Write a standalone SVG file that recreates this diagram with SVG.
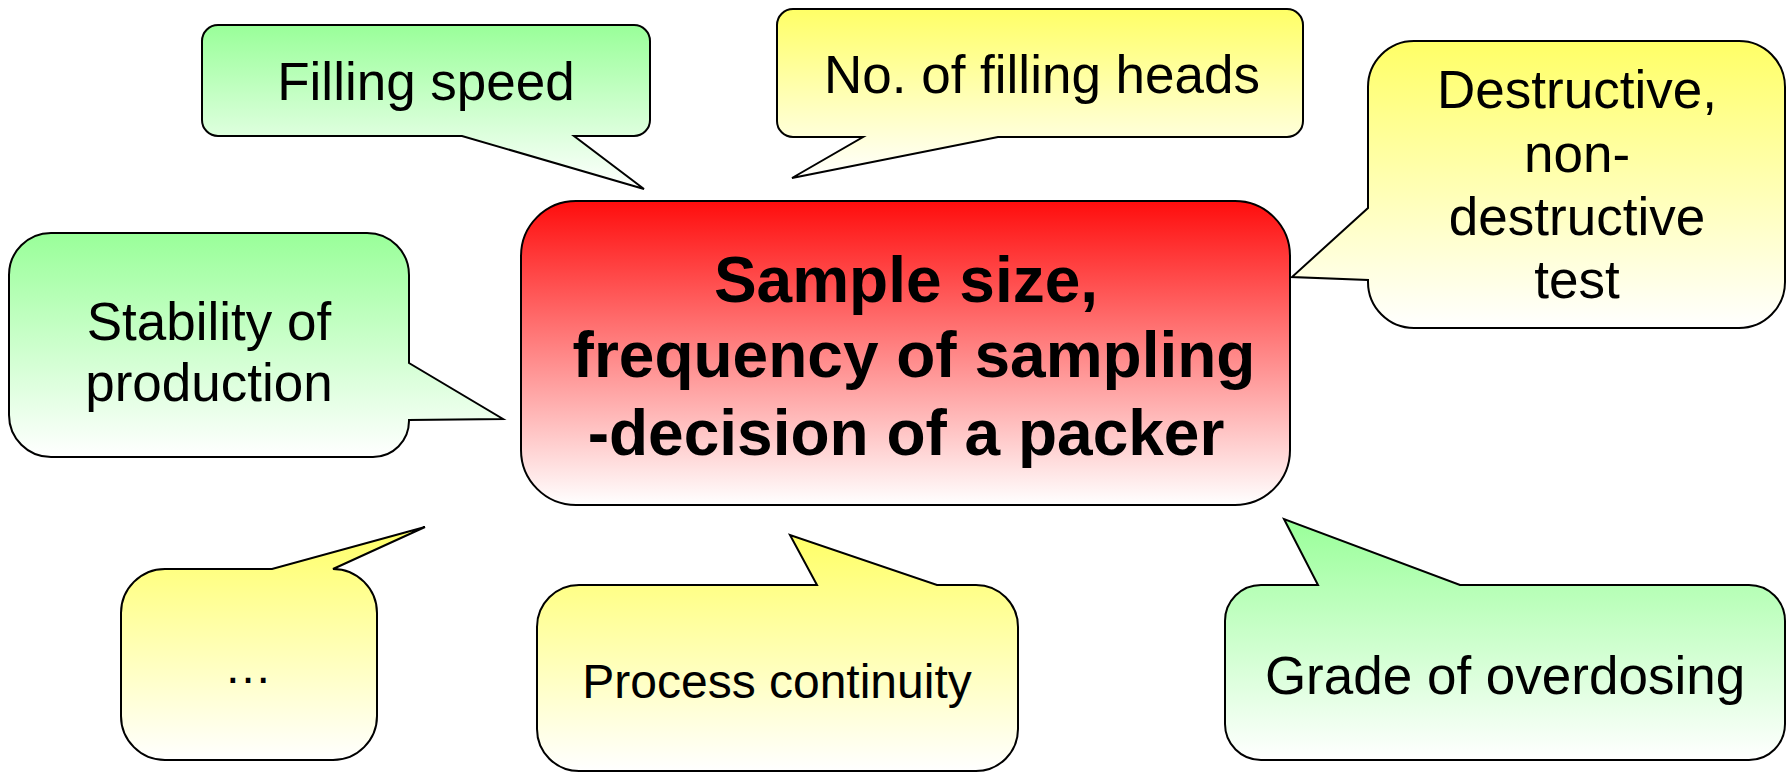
<svg xmlns="http://www.w3.org/2000/svg" width="1788" height="772" viewBox="0 0 1788 772">
<defs>
<linearGradient id="gGreen" x1="0" y1="0" x2="0" y2="1">
<stop offset="0" stop-color="#99FF99"/>
<stop offset="1" stop-color="#FFFFFF"/>
</linearGradient>
<linearGradient id="gYellow" x1="0" y1="0" x2="0" y2="1">
<stop offset="0" stop-color="#FFFF66"/>
<stop offset="1" stop-color="#FFFFFF"/>
</linearGradient>
<linearGradient id="gRed" x1="0" y1="0" x2="0" y2="1">
<stop offset="0" stop-color="#FF0D0D"/>
<stop offset="1" stop-color="#FFFFFF"/>
</linearGradient>
</defs>
<style>
.shape{stroke:#000;stroke-width:2;stroke-linejoin:miter}
.green{fill:url(#gGreen)}
.yellow{fill:url(#gYellow)}
.red{fill:url(#gRed)}
.t{font-family:"Liberation Sans",Arial,sans-serif;font-size:53px;fill:#000;text-anchor:middle}
.ts{font-size:48px}
.tb{font-family:"Liberation Sans",Arial,sans-serif;font-weight:bold;font-size:64px;fill:#000;text-anchor:middle}
</style>
<rect width="1788" height="772" fill="#FFFFFF"/>

<g id="filling-speed">
<path class="shape green" d="M 218,25 H 634 A16,16 0 0 1 650,41 V 120 A16,16 0 0 1 634,136 H 574 L 644,189 L 462,136 H 218 A16,16 0 0 1 202,120 V 41 A16,16 0 0 1 218,25 Z"/>
<text class="t" x="426" y="100">Filling speed</text>
</g>

<g id="filling-heads">
<path class="shape yellow" d="M 793,9 H 1287 A16,16 0 0 1 1303,25 V 121 A16,16 0 0 1 1287,137 H 998 L 792,178 L 863,137 H 793 A16,16 0 0 1 777,121 V 25 A16,16 0 0 1 793,9 Z"/>
<text class="t" x="1042" y="93">No. of filling heads</text>
</g>

<g id="destructive-test">
<path class="shape yellow" d="M 1414,41 H 1739 A46,46 0 0 1 1785,87 V 282 A46,46 0 0 1 1739,328 H 1414 A46,46 0 0 1 1368,282 V 280 L 1292,277 L 1368,208 V 87 A46,46 0 0 1 1414,41 Z"/>
<text class="t" x="1577" y="108">Destructive,</text>
<text class="t" x="1577" y="172">non-</text>
<text class="t" x="1577" y="235">destructive</text>
<text class="t" x="1577" y="298">test</text>
</g>

<g id="stability">
<path class="shape green" d="M 51,233 H 367 A42,42 0 0 1 409,275 V 363 L 503,419 L 409,420 V 421 A36,36 0 0 1 373,457 H 51 A42,42 0 0 1 9,415 V 275 A42,42 0 0 1 51,233 Z"/>
<text class="t" x="209" y="340">Stability of</text>
<text class="t" x="209" y="401">production</text>
</g>

<g id="ellipsis">
<path class="shape yellow" d="M 165,569 H 272 L 425,527 L 333,569 A44,44 0 0 1 377,613 V 716 A44,44 0 0 1 333,760 H 165 A44,44 0 0 1 121,716 V 613 A44,44 0 0 1 165,569 Z"/>
<text class="t ts" x="248" y="683">…</text>
</g>

<g id="process-continuity">
<path class="shape yellow" d="M 579,585 H 817 L 790,535 L 937,585 H 976 A42,42 0 0 1 1018,627 V 729 A42,42 0 0 1 976,771 H 579 A42,42 0 0 1 537,729 V 627 A42,42 0 0 1 579,585 Z"/>
<text class="t ts" x="777" y="698">Process continuity</text>
</g>

<g id="overdosing">
<path class="shape green" d="M 1261,585 H 1318 L 1284,519 L 1460,585 H 1749 A36,36 0 0 1 1785,621 V 724 A36,36 0 0 1 1749,760 H 1261 A36,36 0 0 1 1225,724 V 621 A36,36 0 0 1 1261,585 Z"/>
<text class="t" x="1505" y="694">Grade of overdosing</text>
</g>

<g id="sample-size">
<rect class="shape red" x="521" y="201" width="769" height="304" rx="55" ry="55"/>
<text class="tb" x="906" y="302">Sample size,</text>
<text class="tb" x="914" y="377">frequency of sampling</text>
<text class="tb" x="906" y="455">-decision of a packer</text>
</g>
</svg>
